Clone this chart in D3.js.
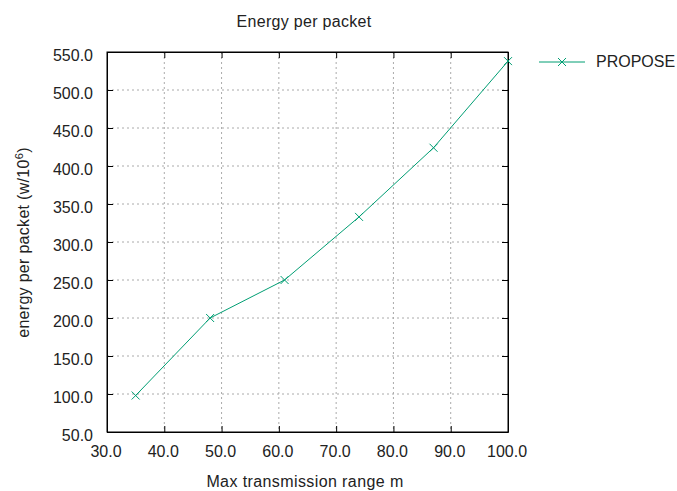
<!DOCTYPE html>
<html>
<head>
<meta charset="utf-8">
<script src="https://cdn.jsdelivr.net/npm/d3@7"></script>
<style>
  body { margin: 0; background: #fff; }
  text { font-family: "Liberation Sans", Arial, sans-serif; fill: #222; }
</style>
</head>
<body>
<script>
// data
var rangeM = [35, 48, 61, 74, 87, 100];
var energy = [98, 200, 250, 333, 424, 538];
var xTicks = [30, 40, 50, 60, 70, 80, 90, 100];
var yTicks = [50, 100, 150, 200, 250, 300, 350, 400, 450, 500, 550];
var seriesName = "PROPOSE";

var W = 677, H = 491;
var margin = {top: 52, right: 169, bottom: 59, left: 107},
    width = W - margin.left - margin.right,
    height = H - margin.top - margin.bottom;
var color = "#009e73";
var FONT = "'Liberation Sans', Arial, sans-serif";

var svg = d3.select("body").append("svg")
  .attr("width", W)
  .attr("height", H);

var g = svg.append("g")
  .attr("transform", "translate(" + margin.left + "," + margin.top + ")");

var x = d3.scaleLinear().domain([30, 100]).range([0, width]);
var y = d3.scaleLinear().domain([50, 550]).range([height, 0]);

// grid
g.append("g").selectAll("line").data(xTicks.slice(1, -1)).enter().append("line")
  .attr("x1", function(d) { return x(d); }).attr("x2", function(d) { return x(d); })
  .attr("y1", 0).attr("y2", height)
  .attr("stroke", "#aaa").attr("stroke-dasharray", "2,3");
g.append("g").selectAll("line").data(yTicks.slice(1, -1)).enter().append("line")
  .attr("y1", function(d) { return y(d); }).attr("y2", function(d) { return y(d); })
  .attr("x1", 0).attr("x2", width)
  .attr("stroke", "#aaa").attr("stroke-dasharray", "2,3");

// axes (inner ticks, mirrored)
var fmt = d3.format(".1f");
var xa = g.append("g").attr("transform", "translate(0," + height + ")")
  .call(d3.axisBottom(x).tickValues(xTicks).tickFormat(fmt).tickSizeInner(-6).tickSizeOuter(0).tickPadding(14));
xa.selectAll(".tick text").attr("dx", "-1.5");
var ya = g.append("g")
  .call(d3.axisLeft(y).tickValues(yTicks).tickFormat(fmt).tickSizeInner(-6).tickSizeOuter(0).tickPadding(14));
ya.selectAll(".tick text").attr("dy", "0.55em");
g.append("g")
  .call(d3.axisTop(x).tickValues(xTicks).tickFormat("").tickSizeInner(-6).tickSizeOuter(0));
g.append("g").attr("transform", "translate(" + width + ",0)")
  .call(d3.axisRight(y).tickValues(yTicks).tickFormat("").tickSizeInner(-6).tickSizeOuter(0));

g.selectAll(".domain").attr("stroke", "#000");
g.selectAll(".tick line").attr("stroke", "#000");
g.selectAll(".tick text").style("font-size", "16px").attr("fill", "#222")
  .style("font-family", FONT);

// frame
g.append("rect").attr("width", width).attr("height", height)
  .attr("fill", "none").attr("stroke", "#000");

// series
var line = d3.line()
  .x(function(d, i) { return x(rangeM[i]); })
  .y(function(d) { return y(d); });
g.append("path").datum(energy)
  .attr("d", line).attr("fill", "none")
  .attr("stroke", color).attr("stroke-width", 1);

function cross(sel, cx, cy) {
  sel.append("path")
    .attr("d", "M" + (cx - 4) + "," + (cy - 4) + "L" + (cx + 4) + "," + (cy + 4) +
               "M" + (cx - 4) + "," + (cy + 4) + "L" + (cx + 4) + "," + (cy - 4))
    .attr("stroke", color).attr("stroke-width", 1).attr("fill", "none");
}
energy.forEach(function(d, i) { cross(g, x(rangeM[i]), y(d)); });

// legend
var lg = svg.append("g");
lg.append("line").attr("x1", 539).attr("x2", 585).attr("y1", 62).attr("y2", 62)
  .attr("stroke", color);
cross(lg, 562, 62);
lg.append("text").attr("x", 596).attr("y", 67).style("font-size", "16px").text(seriesName);

// titles
svg.append("text").attr("x", 304).attr("y", 26.5).attr("text-anchor", "middle")
  .style("font-size", "16px").style("letter-spacing", "0.3px").text("Energy per packet");
svg.append("text").attr("x", 305).attr("y", 487).attr("text-anchor", "middle")
  .style("font-size", "16px").style("letter-spacing", "0.4px").text("Max transmission range m");
var yl = svg.append("text")
  .attr("transform", "translate(29,242.5) rotate(-90)")
  .attr("text-anchor", "middle").style("font-size", "16px").style("letter-spacing", "0.3px");
yl.append("tspan").text("energy per packet (w/10");
yl.append("tspan").attr("baseline-shift", "super").style("font-size", "11px").text("6");
yl.append("tspan").text(")");
</script>
</body>
</html>
